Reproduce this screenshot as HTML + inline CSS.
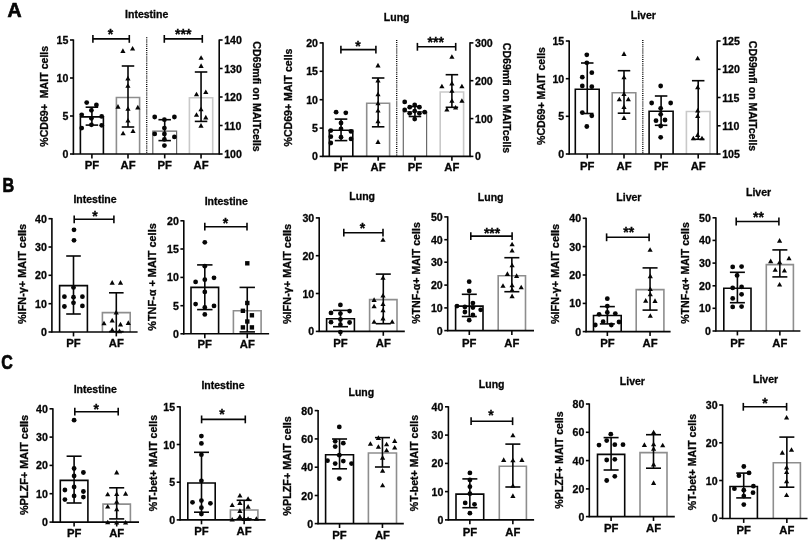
<!DOCTYPE html>
<html><head><meta charset="utf-8"><title>Figure</title>
<style>
html,body{margin:0;padding:0;background:#fff;}
body{width:810px;height:542px;overflow:hidden;}
svg{display:block;filter:blur(0.3px);font-family:"Liberation Sans",sans-serif;fill:#060606;}
text{stroke:#060606;stroke-width:0.3px;}
</style></head><body>
<svg width="810" height="542" viewBox="0 0 810 542">
<rect width="810" height="542" fill="#fff"/>
<text transform="translate(7.4 16.6) scale(1.0 1)" font-size="19.5" font-weight="bold" style="stroke-width:0.7px">A</text>
<text transform="translate(2.6 191.8) scale(0.83 1)" font-size="19.5" font-weight="bold" style="stroke-width:0.7px">B</text>
<text transform="translate(1.2 369.2) scale(0.82 1)" font-size="19.5" font-weight="bold" style="stroke-width:0.7px">C</text>
<path d="M80.40 154.00 L80.40 116.90 L103.40 116.90 L103.40 154.00" fill="#fff" stroke="#060606" stroke-width="1.6"/>
<path d="M116.40 154.00 L116.40 97.50 L139.60 97.50 L139.60 154.00" fill="#fff" stroke="#8e8e8e" stroke-width="1.6"/>
<path d="M152.80 154.00 L152.80 131.10 L176.60 131.10 L176.60 154.00" fill="#fff" stroke="#6a6a6a" stroke-width="1.2"/>
<path d="M189.40 154.00 L189.40 97.80 L212.70 97.80 L212.70 154.00" fill="#fff" stroke="#c9c9c9" stroke-width="1.6"/>
<line x1="73.40" y1="39.40" x2="73.40" y2="154.60" stroke="#060606" stroke-width="1.6"/>
<line x1="72.80" y1="154.00" x2="219.80" y2="154.00" stroke="#060606" stroke-width="1.6"/>
<line x1="70.00" y1="40.00" x2="73.40" y2="40.00" stroke="#060606" stroke-width="1.6"/>
<text xml:space="preserve" x="68.40" y="44.00" font-size="10.6" text-anchor="end" font-weight="bold">15</text>
<line x1="70.00" y1="78.00" x2="73.40" y2="78.00" stroke="#060606" stroke-width="1.6"/>
<text xml:space="preserve" x="68.40" y="82.00" font-size="10.6" text-anchor="end" font-weight="bold">10</text>
<line x1="70.00" y1="116.00" x2="73.40" y2="116.00" stroke="#060606" stroke-width="1.6"/>
<text xml:space="preserve" x="68.40" y="120.00" font-size="10.6" text-anchor="end" font-weight="bold">5</text>
<line x1="70.00" y1="154.00" x2="73.40" y2="154.00" stroke="#060606" stroke-width="1.6"/>
<text xml:space="preserve" x="68.40" y="158.00" font-size="10.6" text-anchor="end" font-weight="bold">0</text>
<line x1="219.20" y1="39.40" x2="219.20" y2="154.60" stroke="#060606" stroke-width="1.6"/>
<line x1="219.20" y1="40.00" x2="222.60" y2="40.00" stroke="#060606" stroke-width="1.6"/>
<text xml:space="preserve" x="224.20" y="44.00" font-size="10.6" text-anchor="start" font-weight="bold">140</text>
<line x1="219.20" y1="68.50" x2="222.60" y2="68.50" stroke="#060606" stroke-width="1.6"/>
<text xml:space="preserve" x="224.20" y="72.50" font-size="10.6" text-anchor="start" font-weight="bold">130</text>
<line x1="219.20" y1="97.00" x2="222.60" y2="97.00" stroke="#060606" stroke-width="1.6"/>
<text xml:space="preserve" x="224.20" y="101.00" font-size="10.6" text-anchor="start" font-weight="bold">120</text>
<line x1="219.20" y1="125.50" x2="222.60" y2="125.50" stroke="#060606" stroke-width="1.6"/>
<text xml:space="preserve" x="224.20" y="129.50" font-size="10.6" text-anchor="start" font-weight="bold">110</text>
<line x1="219.20" y1="154.00" x2="222.60" y2="154.00" stroke="#060606" stroke-width="1.6"/>
<text xml:space="preserve" x="224.20" y="158.00" font-size="10.6" text-anchor="start" font-weight="bold">100</text>
<text xml:space="preserve" x="252.50" y="96.50" font-size="10.6" text-anchor="middle" font-weight="bold" transform="rotate(90 252.50 96.50)">CD69mfi on MAITcells</text>
<line x1="146.70" y1="37.30" x2="146.70" y2="154.00" stroke="#000" stroke-width="1.35" stroke-dasharray="1 1.12"/>
<line x1="91.90" y1="154.00" x2="91.90" y2="158.40" stroke="#060606" stroke-width="1.6"/>
<text xml:space="preserve" x="91.90" y="169.30" font-size="11.3" text-anchor="middle" font-weight="bold">PF</text>
<line x1="128.00" y1="154.00" x2="128.00" y2="158.40" stroke="#060606" stroke-width="1.6"/>
<text xml:space="preserve" x="128.00" y="169.30" font-size="11.3" text-anchor="middle" font-weight="bold">AF</text>
<line x1="164.70" y1="154.00" x2="164.70" y2="158.40" stroke="#060606" stroke-width="1.6"/>
<text xml:space="preserve" x="164.70" y="169.30" font-size="11.3" text-anchor="middle" font-weight="bold">PF</text>
<line x1="201.05" y1="154.00" x2="201.05" y2="158.40" stroke="#060606" stroke-width="1.6"/>
<text xml:space="preserve" x="201.05" y="169.30" font-size="11.3" text-anchor="middle" font-weight="bold">AF</text>
<line x1="91.90" y1="107.20" x2="91.90" y2="125.10" stroke="#060606" stroke-width="1.6"/>
<line x1="85.65" y1="107.20" x2="98.15" y2="107.20" stroke="#060606" stroke-width="1.6"/>
<line x1="85.65" y1="125.10" x2="98.15" y2="125.10" stroke="#060606" stroke-width="1.6"/>
<circle cx="86.70" cy="102.60" r="2.4" fill="#060606"/>
<circle cx="96.40" cy="105.00" r="2.4" fill="#060606"/>
<circle cx="91.40" cy="110.30" r="2.4" fill="#060606"/>
<circle cx="81.70" cy="114.80" r="2.4" fill="#060606"/>
<circle cx="101.70" cy="116.40" r="2.4" fill="#060606"/>
<circle cx="91.40" cy="118.30" r="2.4" fill="#060606"/>
<circle cx="91.40" cy="124.80" r="2.4" fill="#060606"/>
<circle cx="101.70" cy="125.30" r="2.4" fill="#060606"/>
<circle cx="81.70" cy="128.10" r="2.4" fill="#060606"/>
<line x1="128.00" y1="66.00" x2="128.00" y2="127.00" stroke="#060606" stroke-width="1.6"/>
<line x1="121.75" y1="66.00" x2="134.25" y2="66.00" stroke="#060606" stroke-width="1.6"/>
<line x1="121.75" y1="127.00" x2="134.25" y2="127.00" stroke="#060606" stroke-width="1.6"/>
<path d="M122.90 48.33 L125.50 52.93 L120.30 52.93Z" fill="#060606"/>
<path d="M132.60 45.93 L135.20 50.53 L130.00 50.53Z" fill="#060606"/>
<path d="M127.90 75.83 L130.50 80.43 L125.30 80.43Z" fill="#060606"/>
<path d="M127.90 83.23 L130.50 87.83 L125.30 87.83Z" fill="#060606"/>
<path d="M118.00 104.03 L120.60 108.63 L115.40 108.63Z" fill="#060606"/>
<path d="M128.00 106.23 L130.60 110.83 L125.40 110.83Z" fill="#060606"/>
<path d="M137.80 104.83 L140.40 109.43 L135.20 109.43Z" fill="#060606"/>
<path d="M128.00 117.93 L130.60 122.53 L125.40 122.53Z" fill="#060606"/>
<path d="M123.10 130.63 L125.70 135.23 L120.50 135.23Z" fill="#060606"/>
<path d="M133.00 128.43 L135.60 133.03 L130.40 133.03Z" fill="#060606"/>
<line x1="164.70" y1="119.70" x2="164.70" y2="140.60" stroke="#060606" stroke-width="1.6"/>
<line x1="158.45" y1="119.70" x2="170.95" y2="119.70" stroke="#060606" stroke-width="1.6"/>
<line x1="158.45" y1="140.60" x2="170.95" y2="140.60" stroke="#060606" stroke-width="1.6"/>
<circle cx="154.70" cy="117.00" r="2.4" fill="#060606"/>
<circle cx="174.40" cy="117.00" r="2.4" fill="#060606"/>
<circle cx="164.40" cy="119.70" r="2.4" fill="#060606"/>
<circle cx="164.40" cy="128.10" r="2.4" fill="#060606"/>
<circle cx="154.70" cy="133.90" r="2.4" fill="#060606"/>
<circle cx="164.40" cy="133.90" r="2.4" fill="#060606"/>
<circle cx="174.40" cy="136.90" r="2.4" fill="#060606"/>
<circle cx="164.40" cy="139.40" r="2.4" fill="#060606"/>
<circle cx="164.40" cy="145.60" r="2.4" fill="#060606"/>
<line x1="201.05" y1="72.00" x2="201.05" y2="121.40" stroke="#060606" stroke-width="1.6"/>
<line x1="194.80" y1="72.00" x2="207.30" y2="72.00" stroke="#060606" stroke-width="1.6"/>
<line x1="194.80" y1="121.40" x2="207.30" y2="121.40" stroke="#060606" stroke-width="1.6"/>
<path d="M201.10 55.13 L203.70 59.73 L198.50 59.73Z" fill="#060606"/>
<path d="M201.10 63.33 L203.70 67.93 L198.50 67.93Z" fill="#060606"/>
<path d="M196.50 91.73 L199.10 96.33 L193.90 96.33Z" fill="#060606"/>
<path d="M205.80 89.43 L208.40 94.03 L203.20 94.03Z" fill="#060606"/>
<path d="M201.00 106.73 L203.60 111.33 L198.40 111.33Z" fill="#060606"/>
<path d="M196.50 112.23 L199.10 116.83 L193.90 116.83Z" fill="#060606"/>
<path d="M205.80 114.83 L208.40 119.43 L203.20 119.43Z" fill="#060606"/>
<path d="M201.00 123.03 L203.60 127.63 L198.40 127.63Z" fill="#060606"/>
<line x1="92.90" y1="38.90" x2="129.30" y2="38.90" stroke="#060606" stroke-width="1.6"/>
<line x1="92.90" y1="35.00" x2="92.90" y2="42.80" stroke="#060606" stroke-width="1.6"/>
<line x1="129.30" y1="35.00" x2="129.30" y2="42.80" stroke="#060606" stroke-width="1.6"/>
<text xml:space="preserve" x="110.60" y="39.40" font-size="14" text-anchor="middle" font-weight="bold">*</text>
<line x1="164.30" y1="38.90" x2="202.30" y2="38.90" stroke="#060606" stroke-width="1.6"/>
<line x1="164.30" y1="35.00" x2="164.30" y2="42.80" stroke="#060606" stroke-width="1.6"/>
<line x1="202.30" y1="35.00" x2="202.30" y2="42.80" stroke="#060606" stroke-width="1.6"/>
<text xml:space="preserve" x="183.20" y="39.40" font-size="14" text-anchor="middle" font-weight="bold">***</text>
<text xml:space="preserve" x="146.70" y="18.00" font-size="10.5" text-anchor="middle" font-weight="bold">Intestine</text>
<text xml:space="preserve" x="47.70" y="96.30" font-size="10.6" text-anchor="middle" font-weight="bold" transform="rotate(-90 47.70 96.30)">%CD69+  MAIT cells</text>
<path d="M329.30 156.40 L329.30 130.30 L352.80 130.30 L352.80 156.40" fill="#fff" stroke="#060606" stroke-width="1.6"/>
<path d="M366.70 156.40 L366.70 103.30 L389.60 103.30 L389.60 156.40" fill="#fff" stroke="#8e8e8e" stroke-width="1.6"/>
<path d="M403.30 156.40 L403.30 111.70 L426.60 111.70 L426.60 156.40" fill="#fff" stroke="#6a6a6a" stroke-width="1.2"/>
<path d="M440.20 156.40 L440.20 92.00 L463.60 92.00 L463.60 156.40" fill="#fff" stroke="#c9c9c9" stroke-width="1.6"/>
<line x1="323.00" y1="42.30" x2="323.00" y2="157.00" stroke="#060606" stroke-width="1.6"/>
<line x1="322.40" y1="156.40" x2="470.60" y2="156.40" stroke="#060606" stroke-width="1.6"/>
<line x1="319.60" y1="42.90" x2="323.00" y2="42.90" stroke="#060606" stroke-width="1.6"/>
<text xml:space="preserve" x="318.00" y="46.90" font-size="10.6" text-anchor="end" font-weight="bold">20</text>
<line x1="319.60" y1="71.30" x2="323.00" y2="71.30" stroke="#060606" stroke-width="1.6"/>
<text xml:space="preserve" x="318.00" y="75.30" font-size="10.6" text-anchor="end" font-weight="bold">15</text>
<line x1="319.60" y1="99.70" x2="323.00" y2="99.70" stroke="#060606" stroke-width="1.6"/>
<text xml:space="preserve" x="318.00" y="103.70" font-size="10.6" text-anchor="end" font-weight="bold">10</text>
<line x1="319.60" y1="128.10" x2="323.00" y2="128.10" stroke="#060606" stroke-width="1.6"/>
<text xml:space="preserve" x="318.00" y="132.10" font-size="10.6" text-anchor="end" font-weight="bold">5</text>
<line x1="319.60" y1="156.40" x2="323.00" y2="156.40" stroke="#060606" stroke-width="1.6"/>
<text xml:space="preserve" x="318.00" y="160.40" font-size="10.6" text-anchor="end" font-weight="bold">0</text>
<line x1="470.00" y1="42.30" x2="470.00" y2="157.00" stroke="#060606" stroke-width="1.6"/>
<line x1="470.00" y1="42.90" x2="473.40" y2="42.90" stroke="#060606" stroke-width="1.6"/>
<text xml:space="preserve" x="475.00" y="46.90" font-size="10.6" text-anchor="start" font-weight="bold">300</text>
<line x1="470.00" y1="80.70" x2="473.40" y2="80.70" stroke="#060606" stroke-width="1.6"/>
<text xml:space="preserve" x="475.00" y="84.70" font-size="10.6" text-anchor="start" font-weight="bold">200</text>
<line x1="470.00" y1="118.60" x2="473.40" y2="118.60" stroke="#060606" stroke-width="1.6"/>
<text xml:space="preserve" x="475.00" y="122.60" font-size="10.6" text-anchor="start" font-weight="bold">100</text>
<line x1="470.00" y1="156.40" x2="473.40" y2="156.40" stroke="#060606" stroke-width="1.6"/>
<text xml:space="preserve" x="475.00" y="160.40" font-size="10.6" text-anchor="start" font-weight="bold">0</text>
<text xml:space="preserve" x="503.00" y="98.00" font-size="10.6" text-anchor="middle" font-weight="bold" transform="rotate(90 503.00 98.00)">CD69mfi on MAITcells</text>
<line x1="396.70" y1="39.90" x2="396.70" y2="156.40" stroke="#000" stroke-width="1.35" stroke-dasharray="1 1.12"/>
<line x1="341.05" y1="156.40" x2="341.05" y2="160.80" stroke="#060606" stroke-width="1.6"/>
<text xml:space="preserve" x="341.05" y="170.50" font-size="11.3" text-anchor="middle" font-weight="bold">PF</text>
<line x1="378.15" y1="156.40" x2="378.15" y2="160.80" stroke="#060606" stroke-width="1.6"/>
<text xml:space="preserve" x="378.15" y="170.50" font-size="11.3" text-anchor="middle" font-weight="bold">AF</text>
<line x1="414.95" y1="156.40" x2="414.95" y2="160.80" stroke="#060606" stroke-width="1.6"/>
<text xml:space="preserve" x="414.95" y="170.50" font-size="11.3" text-anchor="middle" font-weight="bold">PF</text>
<line x1="451.90" y1="156.40" x2="451.90" y2="160.80" stroke="#060606" stroke-width="1.6"/>
<text xml:space="preserve" x="451.90" y="170.50" font-size="11.3" text-anchor="middle" font-weight="bold">AF</text>
<line x1="341.05" y1="119.10" x2="341.05" y2="140.60" stroke="#060606" stroke-width="1.6"/>
<line x1="334.80" y1="119.10" x2="347.30" y2="119.10" stroke="#060606" stroke-width="1.6"/>
<line x1="334.80" y1="140.60" x2="347.30" y2="140.60" stroke="#060606" stroke-width="1.6"/>
<circle cx="336.10" cy="112.20" r="2.4" fill="#060606"/>
<circle cx="345.80" cy="112.80" r="2.4" fill="#060606"/>
<circle cx="341.00" cy="123.00" r="2.4" fill="#060606"/>
<circle cx="341.00" cy="128.90" r="2.4" fill="#060606"/>
<circle cx="330.80" cy="130.60" r="2.4" fill="#060606"/>
<circle cx="351.00" cy="131.40" r="2.4" fill="#060606"/>
<circle cx="330.80" cy="136.70" r="2.4" fill="#060606"/>
<circle cx="341.00" cy="137.20" r="2.4" fill="#060606"/>
<circle cx="351.00" cy="138.90" r="2.4" fill="#060606"/>
<circle cx="330.80" cy="143.00" r="2.4" fill="#060606"/>
<line x1="378.15" y1="78.00" x2="378.15" y2="126.80" stroke="#060606" stroke-width="1.6"/>
<line x1="371.90" y1="78.00" x2="384.40" y2="78.00" stroke="#060606" stroke-width="1.6"/>
<line x1="371.90" y1="126.80" x2="384.40" y2="126.80" stroke="#060606" stroke-width="1.6"/>
<path d="M378.00 62.83 L380.60 67.43 L375.40 67.43Z" fill="#060606"/>
<path d="M378.00 77.83 L380.60 82.43 L375.40 82.43Z" fill="#060606"/>
<path d="M378.00 91.73 L380.60 96.33 L375.40 96.33Z" fill="#060606"/>
<path d="M378.00 100.63 L380.60 105.23 L375.40 105.23Z" fill="#060606"/>
<path d="M378.00 107.93 L380.60 112.53 L375.40 112.53Z" fill="#060606"/>
<path d="M378.00 118.73 L380.60 123.33 L375.40 123.33Z" fill="#060606"/>
<path d="M378.00 139.33 L380.60 143.93 L375.40 143.93Z" fill="#060606"/>
<line x1="414.95" y1="106.50" x2="414.95" y2="116.50" stroke="#060606" stroke-width="1.6"/>
<line x1="408.70" y1="106.50" x2="421.20" y2="106.50" stroke="#060606" stroke-width="1.6"/>
<line x1="408.70" y1="116.50" x2="421.20" y2="116.50" stroke="#060606" stroke-width="1.6"/>
<circle cx="404.70" cy="101.90" r="2.4" fill="#060606"/>
<circle cx="404.70" cy="110.00" r="2.4" fill="#060606"/>
<circle cx="409.70" cy="107.20" r="2.4" fill="#060606"/>
<circle cx="414.70" cy="105.00" r="2.4" fill="#060606"/>
<circle cx="419.40" cy="107.20" r="2.4" fill="#060606"/>
<circle cx="409.70" cy="113.30" r="2.4" fill="#060606"/>
<circle cx="414.70" cy="111.10" r="2.4" fill="#060606"/>
<circle cx="419.40" cy="113.30" r="2.4" fill="#060606"/>
<circle cx="424.70" cy="112.20" r="2.4" fill="#060606"/>
<circle cx="414.70" cy="119.10" r="2.4" fill="#060606"/>
<line x1="451.90" y1="74.70" x2="451.90" y2="107.30" stroke="#060606" stroke-width="1.6"/>
<line x1="445.65" y1="74.70" x2="458.15" y2="74.70" stroke="#060606" stroke-width="1.6"/>
<line x1="445.65" y1="107.30" x2="458.15" y2="107.30" stroke="#060606" stroke-width="1.6"/>
<path d="M451.90 54.13 L454.50 58.73 L449.30 58.73Z" fill="#060606"/>
<path d="M441.90 83.73 L444.50 88.33 L439.30 88.33Z" fill="#060606"/>
<path d="M451.90 80.83 L454.50 85.43 L449.30 85.43Z" fill="#060606"/>
<path d="M461.90 83.73 L464.50 88.33 L459.30 88.33Z" fill="#060606"/>
<path d="M451.90 88.23 L454.50 92.83 L449.30 92.83Z" fill="#060606"/>
<path d="M461.90 98.23 L464.50 102.83 L459.30 102.83Z" fill="#060606"/>
<path d="M451.90 98.23 L454.50 102.83 L449.30 102.83Z" fill="#060606"/>
<path d="M446.90 106.93 L449.50 111.53 L444.30 111.53Z" fill="#060606"/>
<path d="M455.60 104.93 L458.20 109.53 L453.00 109.53Z" fill="#060606"/>
<line x1="340.90" y1="49.60" x2="375.90" y2="49.60" stroke="#060606" stroke-width="1.6"/>
<line x1="340.90" y1="45.70" x2="340.90" y2="53.50" stroke="#060606" stroke-width="1.6"/>
<line x1="375.90" y1="45.70" x2="375.90" y2="53.50" stroke="#060606" stroke-width="1.6"/>
<text xml:space="preserve" x="357.90" y="50.80" font-size="14" text-anchor="middle" font-weight="bold">*</text>
<line x1="417.40" y1="46.80" x2="455.70" y2="46.80" stroke="#060606" stroke-width="1.6"/>
<line x1="417.40" y1="42.90" x2="417.40" y2="50.70" stroke="#060606" stroke-width="1.6"/>
<line x1="455.70" y1="42.90" x2="455.70" y2="50.70" stroke="#060606" stroke-width="1.6"/>
<text xml:space="preserve" x="435.80" y="47.10" font-size="14" text-anchor="middle" font-weight="bold">***</text>
<text xml:space="preserve" x="396.70" y="20.50" font-size="10.5" text-anchor="middle" font-weight="bold">Lung</text>
<text xml:space="preserve" x="292.00" y="97.50" font-size="10.6" text-anchor="middle" font-weight="bold" transform="rotate(-90 292.00 97.50)">%CD69+ MAIT cells</text>
<path d="M575.30 154.00 L575.30 89.20 L599.20 89.20 L599.20 154.00" fill="#fff" stroke="#060606" stroke-width="1.6"/>
<path d="M612.20 154.00 L612.20 92.80 L635.80 92.80 L635.80 154.00" fill="#fff" stroke="#8e8e8e" stroke-width="1.6"/>
<path d="M649.10 154.00 L649.10 111.20 L673.10 111.20 L673.10 154.00" fill="#fff" stroke="#060606" stroke-width="1.6"/>
<path d="M686.40 154.00 L686.40 111.50 L710.00 111.50 L710.00 154.00" fill="#fff" stroke="#c9c9c9" stroke-width="1.6"/>
<line x1="569.20" y1="40.40" x2="569.20" y2="154.60" stroke="#060606" stroke-width="1.6"/>
<line x1="568.60" y1="154.00" x2="717.80" y2="154.00" stroke="#060606" stroke-width="1.6"/>
<line x1="565.80" y1="41.00" x2="569.20" y2="41.00" stroke="#060606" stroke-width="1.6"/>
<text xml:space="preserve" x="564.20" y="45.00" font-size="10.6" text-anchor="end" font-weight="bold">15</text>
<line x1="565.80" y1="78.70" x2="569.20" y2="78.70" stroke="#060606" stroke-width="1.6"/>
<text xml:space="preserve" x="564.20" y="82.70" font-size="10.6" text-anchor="end" font-weight="bold">10</text>
<line x1="565.80" y1="116.30" x2="569.20" y2="116.30" stroke="#060606" stroke-width="1.6"/>
<text xml:space="preserve" x="564.20" y="120.30" font-size="10.6" text-anchor="end" font-weight="bold">5</text>
<line x1="565.80" y1="154.00" x2="569.20" y2="154.00" stroke="#060606" stroke-width="1.6"/>
<text xml:space="preserve" x="564.20" y="158.00" font-size="10.6" text-anchor="end" font-weight="bold">0</text>
<line x1="717.20" y1="40.40" x2="717.20" y2="154.60" stroke="#060606" stroke-width="1.6"/>
<line x1="717.20" y1="41.00" x2="720.60" y2="41.00" stroke="#060606" stroke-width="1.6"/>
<text xml:space="preserve" x="722.20" y="45.00" font-size="10.6" text-anchor="start" font-weight="bold">125</text>
<line x1="717.20" y1="69.30" x2="720.60" y2="69.30" stroke="#060606" stroke-width="1.6"/>
<text xml:space="preserve" x="722.20" y="73.30" font-size="10.6" text-anchor="start" font-weight="bold">120</text>
<line x1="717.20" y1="97.50" x2="720.60" y2="97.50" stroke="#060606" stroke-width="1.6"/>
<text xml:space="preserve" x="722.20" y="101.50" font-size="10.6" text-anchor="start" font-weight="bold">115</text>
<line x1="717.20" y1="125.80" x2="720.60" y2="125.80" stroke="#060606" stroke-width="1.6"/>
<text xml:space="preserve" x="722.20" y="129.80" font-size="10.6" text-anchor="start" font-weight="bold">110</text>
<line x1="717.20" y1="154.00" x2="720.60" y2="154.00" stroke="#060606" stroke-width="1.6"/>
<text xml:space="preserve" x="722.20" y="158.00" font-size="10.6" text-anchor="start" font-weight="bold">105</text>
<text xml:space="preserve" x="748.70" y="96.00" font-size="10.6" text-anchor="middle" font-weight="bold" transform="rotate(90 748.70 96.00)">CD69mfi on MAITcells</text>
<line x1="642.80" y1="39.90" x2="642.80" y2="154.00" stroke="#000" stroke-width="1.35" stroke-dasharray="1 1.12"/>
<line x1="587.25" y1="154.00" x2="587.25" y2="158.40" stroke="#060606" stroke-width="1.6"/>
<text xml:space="preserve" x="587.25" y="170.00" font-size="11.3" text-anchor="middle" font-weight="bold">PF</text>
<line x1="624.00" y1="154.00" x2="624.00" y2="158.40" stroke="#060606" stroke-width="1.6"/>
<text xml:space="preserve" x="624.00" y="170.00" font-size="11.3" text-anchor="middle" font-weight="bold">AF</text>
<line x1="661.10" y1="154.00" x2="661.10" y2="158.40" stroke="#060606" stroke-width="1.6"/>
<text xml:space="preserve" x="661.10" y="170.00" font-size="11.3" text-anchor="middle" font-weight="bold">PF</text>
<line x1="698.20" y1="154.00" x2="698.20" y2="158.40" stroke="#060606" stroke-width="1.6"/>
<text xml:space="preserve" x="698.20" y="170.00" font-size="11.3" text-anchor="middle" font-weight="bold">AF</text>
<line x1="587.25" y1="63.00" x2="587.25" y2="113.50" stroke="#060606" stroke-width="1.6"/>
<line x1="581.00" y1="63.00" x2="593.50" y2="63.00" stroke="#060606" stroke-width="1.6"/>
<line x1="581.00" y1="113.50" x2="593.50" y2="113.50" stroke="#060606" stroke-width="1.6"/>
<circle cx="586.80" cy="54.80" r="2.4" fill="#060606"/>
<circle cx="586.80" cy="62.80" r="2.4" fill="#060606"/>
<circle cx="591.80" cy="72.70" r="2.4" fill="#060606"/>
<circle cx="582.30" cy="77.20" r="2.4" fill="#060606"/>
<circle cx="582.30" cy="85.90" r="2.4" fill="#060606"/>
<circle cx="591.80" cy="86.70" r="2.4" fill="#060606"/>
<circle cx="582.30" cy="112.60" r="2.4" fill="#060606"/>
<circle cx="591.80" cy="115.80" r="2.4" fill="#060606"/>
<circle cx="586.80" cy="126.50" r="2.4" fill="#060606"/>
<line x1="624.00" y1="70.70" x2="624.00" y2="113.20" stroke="#060606" stroke-width="1.6"/>
<line x1="617.75" y1="70.70" x2="630.25" y2="70.70" stroke="#060606" stroke-width="1.6"/>
<line x1="617.75" y1="113.20" x2="630.25" y2="113.20" stroke="#060606" stroke-width="1.6"/>
<path d="M624.00 51.33 L626.60 55.93 L621.40 55.93Z" fill="#060606"/>
<path d="M624.00 74.67 L626.60 79.27 L621.40 79.27Z" fill="#060606"/>
<path d="M624.00 91.33 L626.60 95.93 L621.40 95.93Z" fill="#060606"/>
<path d="M619.33 96.67 L621.93 101.27 L616.73 101.27Z" fill="#060606"/>
<path d="M628.33 96.67 L630.93 101.27 L625.73 101.27Z" fill="#060606"/>
<path d="M624.00 104.33 L626.60 108.93 L621.40 108.93Z" fill="#060606"/>
<path d="M624.00 115.33 L626.60 119.93 L621.40 119.93Z" fill="#060606"/>
<line x1="661.10" y1="96.00" x2="661.10" y2="125.30" stroke="#060606" stroke-width="1.6"/>
<line x1="654.85" y1="96.00" x2="667.35" y2="96.00" stroke="#060606" stroke-width="1.6"/>
<line x1="654.85" y1="125.30" x2="667.35" y2="125.30" stroke="#060606" stroke-width="1.6"/>
<circle cx="660.67" cy="86.00" r="2.4" fill="#060606"/>
<circle cx="651.67" cy="103.00" r="2.4" fill="#060606"/>
<circle cx="670.67" cy="103.00" r="2.4" fill="#060606"/>
<circle cx="660.67" cy="108.33" r="2.4" fill="#060606"/>
<circle cx="660.67" cy="114.33" r="2.4" fill="#060606"/>
<circle cx="656.00" cy="120.67" r="2.4" fill="#060606"/>
<circle cx="665.00" cy="120.00" r="2.4" fill="#060606"/>
<circle cx="660.67" cy="126.00" r="2.4" fill="#060606"/>
<circle cx="660.67" cy="137.33" r="2.4" fill="#060606"/>
<line x1="698.20" y1="80.70" x2="698.20" y2="139.30" stroke="#060606" stroke-width="1.6"/>
<line x1="691.95" y1="80.70" x2="704.45" y2="80.70" stroke="#060606" stroke-width="1.6"/>
<line x1="691.95" y1="139.30" x2="704.45" y2="139.30" stroke="#060606" stroke-width="1.6"/>
<path d="M697.67 55.67 L700.27 60.27 L695.07 60.27Z" fill="#060606"/>
<path d="M697.67 84.67 L700.27 89.27 L695.07 89.27Z" fill="#060606"/>
<path d="M697.67 108.00 L700.27 112.60 L695.07 112.60Z" fill="#060606"/>
<path d="M697.67 113.33 L700.27 117.93 L695.07 117.93Z" fill="#060606"/>
<path d="M693.33 135.67 L695.93 140.27 L690.73 140.27Z" fill="#060606"/>
<path d="M697.67 132.33 L700.27 136.93 L695.07 136.93Z" fill="#060606"/>
<path d="M702.00 135.67 L704.60 140.27 L699.40 140.27Z" fill="#060606"/>
<text xml:space="preserve" x="643.30" y="19.00" font-size="10.5" text-anchor="middle" font-weight="bold">Liver</text>
<text xml:space="preserve" x="545.00" y="96.00" font-size="10.6" text-anchor="middle" font-weight="bold" transform="rotate(-90 545.00 96.00)">%CD69+ MAIT cells</text>
<path d="M59.60 332.00 L59.60 285.60 L87.40 285.60 L87.40 332.00" fill="#fff" stroke="#060606" stroke-width="1.6"/>
<path d="M102.40 332.00 L102.40 312.60 L130.20 312.60 L130.20 332.00" fill="#fff" stroke="#8e8e8e" stroke-width="1.6"/>
<line x1="51.90" y1="218.10" x2="51.90" y2="332.60" stroke="#060606" stroke-width="1.6"/>
<line x1="51.30" y1="332.00" x2="137.60" y2="332.00" stroke="#060606" stroke-width="1.6"/>
<line x1="48.50" y1="218.70" x2="51.90" y2="218.70" stroke="#060606" stroke-width="1.6"/>
<text xml:space="preserve" x="46.90" y="222.70" font-size="10.6" text-anchor="end" font-weight="bold">40</text>
<line x1="48.50" y1="247.00" x2="51.90" y2="247.00" stroke="#060606" stroke-width="1.6"/>
<text xml:space="preserve" x="46.90" y="251.00" font-size="10.6" text-anchor="end" font-weight="bold">30</text>
<line x1="48.50" y1="275.30" x2="51.90" y2="275.30" stroke="#060606" stroke-width="1.6"/>
<text xml:space="preserve" x="46.90" y="279.30" font-size="10.6" text-anchor="end" font-weight="bold">20</text>
<line x1="48.50" y1="303.70" x2="51.90" y2="303.70" stroke="#060606" stroke-width="1.6"/>
<text xml:space="preserve" x="46.90" y="307.70" font-size="10.6" text-anchor="end" font-weight="bold">10</text>
<line x1="48.50" y1="332.00" x2="51.90" y2="332.00" stroke="#060606" stroke-width="1.6"/>
<text xml:space="preserve" x="46.90" y="336.00" font-size="10.6" text-anchor="end" font-weight="bold">0</text>
<line x1="73.50" y1="332.00" x2="73.50" y2="336.40" stroke="#060606" stroke-width="1.6"/>
<text xml:space="preserve" x="73.50" y="347.00" font-size="11.3" text-anchor="middle" font-weight="bold">PF</text>
<line x1="116.30" y1="332.00" x2="116.30" y2="336.40" stroke="#060606" stroke-width="1.6"/>
<text xml:space="preserve" x="116.30" y="347.00" font-size="11.3" text-anchor="middle" font-weight="bold">AF</text>
<line x1="73.50" y1="256.00" x2="73.50" y2="314.00" stroke="#060606" stroke-width="1.6"/>
<line x1="66.20" y1="256.00" x2="80.80" y2="256.00" stroke="#060606" stroke-width="1.6"/>
<line x1="66.20" y1="314.00" x2="80.80" y2="314.00" stroke="#060606" stroke-width="1.6"/>
<circle cx="74.00" cy="229.80" r="2.4" fill="#060606"/>
<circle cx="74.00" cy="240.30" r="2.4" fill="#060606"/>
<circle cx="73.50" cy="287.40" r="2.4" fill="#060606"/>
<circle cx="64.40" cy="296.70" r="2.4" fill="#060606"/>
<circle cx="73.50" cy="297.20" r="2.4" fill="#060606"/>
<circle cx="82.40" cy="296.70" r="2.4" fill="#060606"/>
<circle cx="73.50" cy="302.80" r="2.4" fill="#060606"/>
<circle cx="64.40" cy="306.50" r="2.4" fill="#060606"/>
<circle cx="82.40" cy="305.90" r="2.4" fill="#060606"/>
<line x1="116.30" y1="292.80" x2="116.30" y2="331.60" stroke="#060606" stroke-width="1.6"/>
<line x1="109.00" y1="292.80" x2="123.60" y2="292.80" stroke="#060606" stroke-width="1.6"/>
<line x1="109.00" y1="331.60" x2="123.60" y2="331.60" stroke="#060606" stroke-width="1.6"/>
<path d="M112.20 280.03 L114.80 284.63 L109.60 284.63Z" fill="#060606"/>
<path d="M120.50 280.03 L123.10 284.63 L117.90 284.63Z" fill="#060606"/>
<path d="M116.20 309.83 L118.80 314.43 L113.60 314.43Z" fill="#060606"/>
<path d="M104.00 320.73 L106.60 325.33 L101.40 325.33Z" fill="#060606"/>
<path d="M112.20 317.83 L114.80 322.43 L109.60 322.43Z" fill="#060606"/>
<path d="M120.50 321.83 L123.10 326.43 L117.90 326.43Z" fill="#060606"/>
<path d="M128.30 320.33 L130.90 324.93 L125.70 324.93Z" fill="#060606"/>
<path d="M112.20 327.33 L114.80 331.93 L109.60 331.93Z" fill="#060606"/>
<path d="M119.50 328.53 L122.10 333.13 L116.90 333.13Z" fill="#060606"/>
<line x1="74.20" y1="219.30" x2="113.90" y2="219.30" stroke="#060606" stroke-width="1.6"/>
<line x1="74.20" y1="215.40" x2="74.20" y2="223.20" stroke="#060606" stroke-width="1.6"/>
<line x1="113.90" y1="215.40" x2="113.90" y2="223.20" stroke="#060606" stroke-width="1.6"/>
<text xml:space="preserve" x="95.00" y="220.60" font-size="14" text-anchor="middle" font-weight="bold">*</text>
<text xml:space="preserve" x="95.00" y="203.00" font-size="10.5" text-anchor="middle" font-weight="bold">Intestine</text>
<text xml:space="preserve" x="26.00" y="274.00" font-size="10.9" text-anchor="middle" font-weight="bold" transform="rotate(-90 26.00 274.00)">%IFN-&#947;+ MAIT cells</text>
<path d="M191.00 333.80 L191.00 287.40 L218.60 287.40 L218.60 333.80" fill="#fff" stroke="#060606" stroke-width="1.6"/>
<path d="M233.40 333.80 L233.40 310.70 L261.10 310.70 L261.10 333.80" fill="#fff" stroke="#8e8e8e" stroke-width="1.6"/>
<line x1="183.80" y1="220.20" x2="183.80" y2="334.40" stroke="#060606" stroke-width="1.6"/>
<line x1="183.20" y1="333.80" x2="269.10" y2="333.80" stroke="#060606" stroke-width="1.6"/>
<line x1="180.40" y1="220.80" x2="183.80" y2="220.80" stroke="#060606" stroke-width="1.6"/>
<text xml:space="preserve" x="178.80" y="224.80" font-size="10.6" text-anchor="end" font-weight="bold">20</text>
<line x1="180.40" y1="249.00" x2="183.80" y2="249.00" stroke="#060606" stroke-width="1.6"/>
<text xml:space="preserve" x="178.80" y="253.00" font-size="10.6" text-anchor="end" font-weight="bold">15</text>
<line x1="180.40" y1="277.40" x2="183.80" y2="277.40" stroke="#060606" stroke-width="1.6"/>
<text xml:space="preserve" x="178.80" y="281.40" font-size="10.6" text-anchor="end" font-weight="bold">10</text>
<line x1="180.40" y1="305.70" x2="183.80" y2="305.70" stroke="#060606" stroke-width="1.6"/>
<text xml:space="preserve" x="178.80" y="309.70" font-size="10.6" text-anchor="end" font-weight="bold">5</text>
<line x1="180.40" y1="333.80" x2="183.80" y2="333.80" stroke="#060606" stroke-width="1.6"/>
<text xml:space="preserve" x="178.80" y="337.80" font-size="10.6" text-anchor="end" font-weight="bold">0</text>
<line x1="204.80" y1="333.80" x2="204.80" y2="338.20" stroke="#060606" stroke-width="1.6"/>
<text xml:space="preserve" x="204.80" y="348.00" font-size="11.3" text-anchor="middle" font-weight="bold">PF</text>
<line x1="247.25" y1="333.80" x2="247.25" y2="338.20" stroke="#060606" stroke-width="1.6"/>
<text xml:space="preserve" x="247.25" y="348.00" font-size="11.3" text-anchor="middle" font-weight="bold">AF</text>
<line x1="204.80" y1="264.90" x2="204.80" y2="309.60" stroke="#060606" stroke-width="1.6"/>
<line x1="197.10" y1="264.90" x2="212.50" y2="264.90" stroke="#060606" stroke-width="1.6"/>
<line x1="197.10" y1="309.60" x2="212.50" y2="309.60" stroke="#060606" stroke-width="1.6"/>
<circle cx="204.80" cy="242.30" r="2.4" fill="#060606"/>
<circle cx="204.80" cy="266.20" r="2.4" fill="#060606"/>
<circle cx="214.00" cy="277.80" r="2.4" fill="#060606"/>
<circle cx="204.80" cy="279.70" r="2.4" fill="#060606"/>
<circle cx="195.60" cy="281.90" r="2.4" fill="#060606"/>
<circle cx="204.80" cy="291.90" r="2.4" fill="#060606"/>
<circle cx="195.60" cy="304.10" r="2.4" fill="#060606"/>
<circle cx="214.00" cy="305.90" r="2.4" fill="#060606"/>
<circle cx="204.80" cy="307.40" r="2.4" fill="#060606"/>
<circle cx="204.80" cy="314.40" r="2.4" fill="#060606"/>
<line x1="247.25" y1="287.40" x2="247.25" y2="331.90" stroke="#060606" stroke-width="1.6"/>
<line x1="239.55" y1="287.40" x2="254.95" y2="287.40" stroke="#060606" stroke-width="1.6"/>
<line x1="239.55" y1="331.90" x2="254.95" y2="331.90" stroke="#060606" stroke-width="1.6"/>
<rect x="245.10" y="261.10" width="4.4" height="4.4" fill="#060606"/>
<rect x="245.10" y="300.80" width="4.4" height="4.4" fill="#060606"/>
<rect x="240.70" y="308.60" width="4.4" height="4.4" fill="#060606"/>
<rect x="249.70" y="313.10" width="4.4" height="4.4" fill="#060606"/>
<rect x="245.10" y="319.30" width="4.4" height="4.4" fill="#060606"/>
<rect x="240.70" y="325.20" width="4.4" height="4.4" fill="#060606"/>
<rect x="249.70" y="325.20" width="4.4" height="4.4" fill="#060606"/>
<line x1="204.80" y1="226.70" x2="247.00" y2="226.70" stroke="#060606" stroke-width="1.6"/>
<line x1="204.80" y1="222.80" x2="204.80" y2="230.60" stroke="#060606" stroke-width="1.6"/>
<line x1="247.00" y1="222.80" x2="247.00" y2="230.60" stroke="#060606" stroke-width="1.6"/>
<text xml:space="preserve" x="225.60" y="227.60" font-size="14" text-anchor="middle" font-weight="bold">*</text>
<text xml:space="preserve" x="226.30" y="205.30" font-size="10.5" text-anchor="middle" font-weight="bold">Intestine</text>
<text xml:space="preserve" x="156.00" y="277.00" font-size="10.9" text-anchor="middle" font-weight="bold" transform="rotate(-90 156.00 277.00)">%TNF-&#945; + MAIT cells</text>
<path d="M326.60 331.40 L326.60 318.80 L354.40 318.80 L354.40 331.40" fill="#fff" stroke="#060606" stroke-width="1.6"/>
<path d="M369.60 331.40 L369.60 299.60 L397.00 299.60 L397.00 331.40" fill="#fff" stroke="#8e8e8e" stroke-width="1.6"/>
<line x1="319.20" y1="217.30" x2="319.20" y2="332.00" stroke="#060606" stroke-width="1.6"/>
<line x1="318.60" y1="331.40" x2="404.80" y2="331.40" stroke="#060606" stroke-width="1.6"/>
<line x1="315.80" y1="217.90" x2="319.20" y2="217.90" stroke="#060606" stroke-width="1.6"/>
<text xml:space="preserve" x="314.20" y="221.90" font-size="10.6" text-anchor="end" font-weight="bold">30</text>
<line x1="315.80" y1="255.70" x2="319.20" y2="255.70" stroke="#060606" stroke-width="1.6"/>
<text xml:space="preserve" x="314.20" y="259.70" font-size="10.6" text-anchor="end" font-weight="bold">20</text>
<line x1="315.80" y1="293.50" x2="319.20" y2="293.50" stroke="#060606" stroke-width="1.6"/>
<text xml:space="preserve" x="314.20" y="297.50" font-size="10.6" text-anchor="end" font-weight="bold">10</text>
<line x1="315.80" y1="331.40" x2="319.20" y2="331.40" stroke="#060606" stroke-width="1.6"/>
<text xml:space="preserve" x="314.20" y="335.40" font-size="10.6" text-anchor="end" font-weight="bold">0</text>
<line x1="340.50" y1="331.40" x2="340.50" y2="335.80" stroke="#060606" stroke-width="1.6"/>
<text xml:space="preserve" x="340.50" y="347.00" font-size="11.3" text-anchor="middle" font-weight="bold">PF</text>
<line x1="383.30" y1="331.40" x2="383.30" y2="335.80" stroke="#060606" stroke-width="1.6"/>
<text xml:space="preserve" x="383.30" y="347.00" font-size="11.3" text-anchor="middle" font-weight="bold">AF</text>
<line x1="340.50" y1="310.40" x2="340.50" y2="326.70" stroke="#060606" stroke-width="1.6"/>
<line x1="333.00" y1="310.40" x2="348.00" y2="310.40" stroke="#060606" stroke-width="1.6"/>
<line x1="333.00" y1="326.70" x2="348.00" y2="326.70" stroke="#060606" stroke-width="1.6"/>
<circle cx="340.40" cy="304.90" r="2.4" fill="#060606"/>
<circle cx="349.60" cy="311.10" r="2.4" fill="#060606"/>
<circle cx="331.00" cy="312.90" r="2.4" fill="#060606"/>
<circle cx="340.40" cy="313.60" r="2.4" fill="#060606"/>
<circle cx="331.00" cy="322.20" r="2.4" fill="#060606"/>
<circle cx="349.60" cy="322.50" r="2.4" fill="#060606"/>
<circle cx="340.40" cy="324.70" r="2.4" fill="#060606"/>
<circle cx="340.40" cy="332.10" r="2.4" fill="#060606"/>
<circle cx="340.40" cy="319.50" r="2.4" fill="#060606"/>
<line x1="383.30" y1="274.10" x2="383.30" y2="323.70" stroke="#060606" stroke-width="1.6"/>
<line x1="375.80" y1="274.10" x2="390.80" y2="274.10" stroke="#060606" stroke-width="1.6"/>
<line x1="375.80" y1="323.70" x2="390.80" y2="323.70" stroke="#060606" stroke-width="1.6"/>
<path d="M383.00 237.13 L385.60 241.73 L380.40 241.73Z" fill="#060606"/>
<path d="M383.00 275.13 L385.60 279.73 L380.40 279.73Z" fill="#060606"/>
<path d="M383.00 292.93 L385.60 297.53 L380.40 297.53Z" fill="#060606"/>
<path d="M374.10 297.33 L376.70 301.93 L371.50 301.93Z" fill="#060606"/>
<path d="M383.00 301.43 L385.60 306.03 L380.40 306.03Z" fill="#060606"/>
<path d="M374.10 303.73 L376.70 308.33 L371.50 308.33Z" fill="#060606"/>
<path d="M383.00 307.73 L385.60 312.33 L380.40 312.33Z" fill="#060606"/>
<path d="M383.00 315.83 L385.60 320.43 L380.40 320.43Z" fill="#060606"/>
<path d="M374.10 319.23 L376.70 323.83 L371.50 323.83Z" fill="#060606"/>
<path d="M392.20 319.23 L394.80 323.83 L389.60 323.83Z" fill="#060606"/>
<line x1="343.80" y1="232.70" x2="383.00" y2="232.70" stroke="#060606" stroke-width="1.6"/>
<line x1="343.80" y1="228.80" x2="343.80" y2="236.60" stroke="#060606" stroke-width="1.6"/>
<line x1="383.00" y1="228.80" x2="383.00" y2="236.60" stroke="#060606" stroke-width="1.6"/>
<text xml:space="preserve" x="362.60" y="233.20" font-size="14" text-anchor="middle" font-weight="bold">*</text>
<text xml:space="preserve" x="362.20" y="200.30" font-size="10.5" text-anchor="middle" font-weight="bold">Lung</text>
<text xml:space="preserve" x="290.50" y="274.00" font-size="10.9" text-anchor="middle" font-weight="bold" transform="rotate(-90 290.50 274.00)">%IFN-&#947;+ MAIT cells</text>
<path d="M455.60 330.60 L455.60 306.10 L483.00 306.10 L483.00 330.60" fill="#fff" stroke="#060606" stroke-width="1.6"/>
<path d="M498.20 330.60 L498.20 275.70 L525.50 275.70 L525.50 330.60" fill="#fff" stroke="#8e8e8e" stroke-width="1.6"/>
<line x1="447.70" y1="216.30" x2="447.70" y2="331.20" stroke="#060606" stroke-width="1.6"/>
<line x1="447.10" y1="330.60" x2="534.00" y2="330.60" stroke="#060606" stroke-width="1.6"/>
<line x1="444.30" y1="216.90" x2="447.70" y2="216.90" stroke="#060606" stroke-width="1.6"/>
<text xml:space="preserve" x="442.70" y="220.90" font-size="10.6" text-anchor="end" font-weight="bold">50</text>
<line x1="444.30" y1="239.70" x2="447.70" y2="239.70" stroke="#060606" stroke-width="1.6"/>
<text xml:space="preserve" x="442.70" y="243.70" font-size="10.6" text-anchor="end" font-weight="bold">40</text>
<line x1="444.30" y1="262.20" x2="447.70" y2="262.20" stroke="#060606" stroke-width="1.6"/>
<text xml:space="preserve" x="442.70" y="266.20" font-size="10.6" text-anchor="end" font-weight="bold">30</text>
<line x1="444.30" y1="285.10" x2="447.70" y2="285.10" stroke="#060606" stroke-width="1.6"/>
<text xml:space="preserve" x="442.70" y="289.10" font-size="10.6" text-anchor="end" font-weight="bold">20</text>
<line x1="444.30" y1="307.90" x2="447.70" y2="307.90" stroke="#060606" stroke-width="1.6"/>
<text xml:space="preserve" x="442.70" y="311.90" font-size="10.6" text-anchor="end" font-weight="bold">10</text>
<line x1="444.30" y1="330.60" x2="447.70" y2="330.60" stroke="#060606" stroke-width="1.6"/>
<text xml:space="preserve" x="442.70" y="334.60" font-size="10.6" text-anchor="end" font-weight="bold">0</text>
<line x1="469.30" y1="330.60" x2="469.30" y2="335.00" stroke="#060606" stroke-width="1.6"/>
<text xml:space="preserve" x="469.30" y="347.00" font-size="11.3" text-anchor="middle" font-weight="bold">PF</text>
<line x1="511.85" y1="330.60" x2="511.85" y2="335.00" stroke="#060606" stroke-width="1.6"/>
<text xml:space="preserve" x="511.85" y="347.00" font-size="11.3" text-anchor="middle" font-weight="bold">AF</text>
<line x1="469.30" y1="294.30" x2="469.30" y2="316.50" stroke="#060606" stroke-width="1.6"/>
<line x1="461.80" y1="294.30" x2="476.80" y2="294.30" stroke="#060606" stroke-width="1.6"/>
<line x1="461.80" y1="316.50" x2="476.80" y2="316.50" stroke="#060606" stroke-width="1.6"/>
<circle cx="469.20" cy="281.70" r="2.4" fill="#060606"/>
<circle cx="469.20" cy="291.00" r="2.4" fill="#060606"/>
<circle cx="472.90" cy="303.10" r="2.4" fill="#060606"/>
<circle cx="457.00" cy="306.10" r="2.4" fill="#060606"/>
<circle cx="464.90" cy="306.90" r="2.4" fill="#060606"/>
<circle cx="472.90" cy="307.60" r="2.4" fill="#060606"/>
<circle cx="480.70" cy="309.80" r="2.4" fill="#060606"/>
<circle cx="464.90" cy="312.00" r="2.4" fill="#060606"/>
<circle cx="472.90" cy="315.00" r="2.4" fill="#060606"/>
<circle cx="469.20" cy="320.20" r="2.4" fill="#060606"/>
<line x1="511.85" y1="257.70" x2="511.85" y2="291.70" stroke="#060606" stroke-width="1.6"/>
<line x1="504.35" y1="257.70" x2="519.35" y2="257.70" stroke="#060606" stroke-width="1.6"/>
<line x1="504.35" y1="291.70" x2="519.35" y2="291.70" stroke="#060606" stroke-width="1.6"/>
<path d="M512.10 241.63 L514.70 246.23 L509.50 246.23Z" fill="#060606"/>
<path d="M512.10 247.93 L514.70 252.53 L509.50 252.53Z" fill="#060606"/>
<path d="M512.10 262.73 L514.70 267.33 L509.50 267.33Z" fill="#060606"/>
<path d="M507.40 271.33 L510.00 275.93 L504.80 275.93Z" fill="#060606"/>
<path d="M516.60 273.33 L519.20 277.93 L514.00 277.93Z" fill="#060606"/>
<path d="M503.00 283.13 L505.60 287.73 L500.40 287.73Z" fill="#060606"/>
<path d="M512.10 282.73 L514.70 287.33 L509.50 287.33Z" fill="#060606"/>
<path d="M521.20 284.63 L523.80 289.23 L518.60 289.23Z" fill="#060606"/>
<path d="M512.10 287.13 L514.70 291.73 L509.50 291.73Z" fill="#060606"/>
<path d="M512.10 293.53 L514.70 298.13 L509.50 298.13Z" fill="#060606"/>
<line x1="470.80" y1="236.10" x2="512.10" y2="236.10" stroke="#060606" stroke-width="1.6"/>
<line x1="470.80" y1="232.20" x2="470.80" y2="240.00" stroke="#060606" stroke-width="1.6"/>
<line x1="512.10" y1="232.20" x2="512.10" y2="240.00" stroke="#060606" stroke-width="1.6"/>
<text xml:space="preserve" x="492.10" y="237.80" font-size="14" text-anchor="middle" font-weight="bold">***</text>
<text xml:space="preserve" x="490.70" y="201.00" font-size="10.5" text-anchor="middle" font-weight="bold">Lung</text>
<text xml:space="preserve" x="420.00" y="273.00" font-size="10.6" text-anchor="middle" font-weight="bold" transform="rotate(-90 420.00 273.00)">%TNF-&#945;+ MAIT cells</text>
<path d="M593.50 331.60 L593.50 315.50 L621.20 315.50 L621.20 331.60" fill="#fff" stroke="#060606" stroke-width="1.6"/>
<path d="M636.20 331.60 L636.20 289.60 L663.90 289.60 L663.90 331.60" fill="#fff" stroke="#8e8e8e" stroke-width="1.6"/>
<line x1="586.10" y1="217.70" x2="586.10" y2="332.20" stroke="#060606" stroke-width="1.6"/>
<line x1="585.50" y1="331.60" x2="670.60" y2="331.60" stroke="#060606" stroke-width="1.6"/>
<line x1="582.70" y1="218.30" x2="586.10" y2="218.30" stroke="#060606" stroke-width="1.6"/>
<text xml:space="preserve" x="581.10" y="222.30" font-size="10.6" text-anchor="end" font-weight="bold">40</text>
<line x1="582.70" y1="246.60" x2="586.10" y2="246.60" stroke="#060606" stroke-width="1.6"/>
<text xml:space="preserve" x="581.10" y="250.60" font-size="10.6" text-anchor="end" font-weight="bold">30</text>
<line x1="582.70" y1="275.00" x2="586.10" y2="275.00" stroke="#060606" stroke-width="1.6"/>
<text xml:space="preserve" x="581.10" y="279.00" font-size="10.6" text-anchor="end" font-weight="bold">20</text>
<line x1="582.70" y1="303.40" x2="586.10" y2="303.40" stroke="#060606" stroke-width="1.6"/>
<text xml:space="preserve" x="581.10" y="307.40" font-size="10.6" text-anchor="end" font-weight="bold">10</text>
<line x1="582.70" y1="331.60" x2="586.10" y2="331.60" stroke="#060606" stroke-width="1.6"/>
<text xml:space="preserve" x="581.10" y="335.60" font-size="10.6" text-anchor="end" font-weight="bold">0</text>
<line x1="607.35" y1="331.60" x2="607.35" y2="336.00" stroke="#060606" stroke-width="1.6"/>
<text xml:space="preserve" x="607.35" y="347.30" font-size="11.3" text-anchor="middle" font-weight="bold">PF</text>
<line x1="650.05" y1="331.60" x2="650.05" y2="336.00" stroke="#060606" stroke-width="1.6"/>
<text xml:space="preserve" x="650.05" y="347.30" font-size="11.3" text-anchor="middle" font-weight="bold">AF</text>
<line x1="607.35" y1="306.60" x2="607.35" y2="323.90" stroke="#060606" stroke-width="1.6"/>
<line x1="599.85" y1="306.60" x2="614.85" y2="306.60" stroke="#060606" stroke-width="1.6"/>
<line x1="599.85" y1="323.90" x2="614.85" y2="323.90" stroke="#060606" stroke-width="1.6"/>
<circle cx="607.30" cy="298.70" r="2.4" fill="#060606"/>
<circle cx="607.30" cy="306.10" r="2.4" fill="#060606"/>
<circle cx="607.30" cy="312.40" r="2.4" fill="#060606"/>
<circle cx="599.10" cy="314.30" r="2.4" fill="#060606"/>
<circle cx="615.30" cy="313.60" r="2.4" fill="#060606"/>
<circle cx="603.10" cy="321.70" r="2.4" fill="#060606"/>
<circle cx="619.00" cy="322.00" r="2.4" fill="#060606"/>
<circle cx="595.30" cy="325.00" r="2.4" fill="#060606"/>
<circle cx="611.30" cy="325.00" r="2.4" fill="#060606"/>
<line x1="650.05" y1="267.90" x2="650.05" y2="310.10" stroke="#060606" stroke-width="1.6"/>
<line x1="642.55" y1="267.90" x2="657.55" y2="267.90" stroke="#060606" stroke-width="1.6"/>
<line x1="642.55" y1="310.10" x2="657.55" y2="310.10" stroke="#060606" stroke-width="1.6"/>
<path d="M650.10 247.23 L652.70 251.83 L647.50 251.83Z" fill="#060606"/>
<path d="M650.30 273.53 L652.90 278.13 L647.70 278.13Z" fill="#060606"/>
<path d="M650.30 286.43 L652.90 291.03 L647.70 291.03Z" fill="#060606"/>
<path d="M650.30 291.63 L652.90 296.23 L647.70 296.23Z" fill="#060606"/>
<path d="M645.70 298.03 L648.30 302.63 L643.10 302.63Z" fill="#060606"/>
<path d="M655.00 298.33 L657.60 302.93 L652.40 302.93Z" fill="#060606"/>
<path d="M650.30 313.13 L652.90 317.73 L647.70 317.73Z" fill="#060606"/>
<line x1="606.60" y1="237.30" x2="649.10" y2="237.30" stroke="#060606" stroke-width="1.6"/>
<line x1="606.60" y1="233.40" x2="606.60" y2="241.20" stroke="#060606" stroke-width="1.6"/>
<line x1="649.10" y1="233.40" x2="649.10" y2="241.20" stroke="#060606" stroke-width="1.6"/>
<text xml:space="preserve" x="628.80" y="237.40" font-size="14" text-anchor="middle" font-weight="bold">**</text>
<text xml:space="preserve" x="628.90" y="201.30" font-size="10.5" text-anchor="middle" font-weight="bold">Liver</text>
<text xml:space="preserve" x="559.00" y="274.00" font-size="10.9" text-anchor="middle" font-weight="bold" transform="rotate(-90 559.00 274.00)">%IFN-&#947;+ MAIT cells</text>
<path d="M723.80 331.00 L723.80 288.30 L751.00 288.30 L751.00 331.00" fill="#fff" stroke="#060606" stroke-width="1.6"/>
<path d="M766.30 331.00 L766.30 264.60 L793.40 264.60 L793.40 331.00" fill="#fff" stroke="#8e8e8e" stroke-width="1.6"/>
<line x1="715.90" y1="217.20" x2="715.90" y2="331.60" stroke="#060606" stroke-width="1.6"/>
<line x1="715.30" y1="331.00" x2="800.40" y2="331.00" stroke="#060606" stroke-width="1.6"/>
<line x1="712.50" y1="217.80" x2="715.90" y2="217.80" stroke="#060606" stroke-width="1.6"/>
<text xml:space="preserve" x="710.90" y="221.80" font-size="10.6" text-anchor="end" font-weight="bold">50</text>
<line x1="712.50" y1="240.40" x2="715.90" y2="240.40" stroke="#060606" stroke-width="1.6"/>
<text xml:space="preserve" x="710.90" y="244.40" font-size="10.6" text-anchor="end" font-weight="bold">40</text>
<line x1="712.50" y1="263.10" x2="715.90" y2="263.10" stroke="#060606" stroke-width="1.6"/>
<text xml:space="preserve" x="710.90" y="267.10" font-size="10.6" text-anchor="end" font-weight="bold">30</text>
<line x1="712.50" y1="285.80" x2="715.90" y2="285.80" stroke="#060606" stroke-width="1.6"/>
<text xml:space="preserve" x="710.90" y="289.80" font-size="10.6" text-anchor="end" font-weight="bold">20</text>
<line x1="712.50" y1="308.30" x2="715.90" y2="308.30" stroke="#060606" stroke-width="1.6"/>
<text xml:space="preserve" x="710.90" y="312.30" font-size="10.6" text-anchor="end" font-weight="bold">10</text>
<line x1="712.50" y1="331.00" x2="715.90" y2="331.00" stroke="#060606" stroke-width="1.6"/>
<text xml:space="preserve" x="710.90" y="335.00" font-size="10.6" text-anchor="end" font-weight="bold">0</text>
<line x1="737.40" y1="331.00" x2="737.40" y2="335.40" stroke="#060606" stroke-width="1.6"/>
<text xml:space="preserve" x="737.40" y="347.00" font-size="11.3" text-anchor="middle" font-weight="bold">PF</text>
<line x1="779.85" y1="331.00" x2="779.85" y2="335.40" stroke="#060606" stroke-width="1.6"/>
<text xml:space="preserve" x="779.85" y="347.00" font-size="11.3" text-anchor="middle" font-weight="bold">AF</text>
<line x1="737.40" y1="272.30" x2="737.40" y2="302.70" stroke="#060606" stroke-width="1.6"/>
<line x1="729.90" y1="272.30" x2="744.90" y2="272.30" stroke="#060606" stroke-width="1.6"/>
<line x1="729.90" y1="302.70" x2="744.90" y2="302.70" stroke="#060606" stroke-width="1.6"/>
<circle cx="732.70" cy="266.90" r="2.4" fill="#060606"/>
<circle cx="741.60" cy="266.60" r="2.4" fill="#060606"/>
<circle cx="737.10" cy="275.40" r="2.4" fill="#060606"/>
<circle cx="732.70" cy="287.90" r="2.4" fill="#060606"/>
<circle cx="741.60" cy="286.90" r="2.4" fill="#060606"/>
<circle cx="741.60" cy="294.30" r="2.4" fill="#060606"/>
<circle cx="732.70" cy="298.40" r="2.4" fill="#060606"/>
<circle cx="732.70" cy="306.90" r="2.4" fill="#060606"/>
<circle cx="741.60" cy="306.60" r="2.4" fill="#060606"/>
<line x1="779.85" y1="249.90" x2="779.85" y2="276.90" stroke="#060606" stroke-width="1.6"/>
<line x1="772.35" y1="249.90" x2="787.35" y2="249.90" stroke="#060606" stroke-width="1.6"/>
<line x1="772.35" y1="276.90" x2="787.35" y2="276.90" stroke="#060606" stroke-width="1.6"/>
<path d="M779.60 238.03 L782.20 242.63 L777.00 242.63Z" fill="#060606"/>
<path d="M770.70 258.53 L773.30 263.13 L768.10 263.13Z" fill="#060606"/>
<path d="M789.00 255.63 L791.60 260.23 L786.40 260.23Z" fill="#060606"/>
<path d="M779.60 259.73 L782.20 264.33 L777.00 264.33Z" fill="#060606"/>
<path d="M775.20 267.13 L777.80 271.73 L772.60 271.73Z" fill="#060606"/>
<path d="M784.40 267.93 L787.00 272.53 L781.80 272.53Z" fill="#060606"/>
<path d="M779.60 281.93 L782.20 286.53 L777.00 286.53Z" fill="#060606"/>
<line x1="736.20" y1="221.50" x2="778.90" y2="221.50" stroke="#060606" stroke-width="1.6"/>
<line x1="736.20" y1="217.60" x2="736.20" y2="225.40" stroke="#060606" stroke-width="1.6"/>
<line x1="778.90" y1="217.60" x2="778.90" y2="225.40" stroke="#060606" stroke-width="1.6"/>
<text xml:space="preserve" x="758.40" y="222.00" font-size="14" text-anchor="middle" font-weight="bold">**</text>
<text xml:space="preserve" x="758.60" y="195.60" font-size="10.5" text-anchor="middle" font-weight="bold">Liver</text>
<text xml:space="preserve" x="689.00" y="273.00" font-size="10.6" text-anchor="middle" font-weight="bold" transform="rotate(-90 689.00 273.00)">%TNF-&#945;+ MAIT cells</text>
<path d="M60.30 522.10 L60.30 480.40 L87.90 480.40 L87.90 522.10" fill="#fff" stroke="#060606" stroke-width="1.6"/>
<path d="M103.00 522.10 L103.00 504.10 L130.40 504.10 L130.40 522.10" fill="#fff" stroke="#8e8e8e" stroke-width="1.6"/>
<line x1="52.90" y1="408.20" x2="52.90" y2="522.70" stroke="#060606" stroke-width="1.6"/>
<line x1="52.30" y1="522.10" x2="139.00" y2="522.10" stroke="#060606" stroke-width="1.6"/>
<line x1="49.50" y1="408.80" x2="52.90" y2="408.80" stroke="#060606" stroke-width="1.6"/>
<text xml:space="preserve" x="47.90" y="412.80" font-size="10.6" text-anchor="end" font-weight="bold">40</text>
<line x1="49.50" y1="437.10" x2="52.90" y2="437.10" stroke="#060606" stroke-width="1.6"/>
<text xml:space="preserve" x="47.90" y="441.10" font-size="10.6" text-anchor="end" font-weight="bold">30</text>
<line x1="49.50" y1="465.40" x2="52.90" y2="465.40" stroke="#060606" stroke-width="1.6"/>
<text xml:space="preserve" x="47.90" y="469.40" font-size="10.6" text-anchor="end" font-weight="bold">20</text>
<line x1="49.50" y1="493.70" x2="52.90" y2="493.70" stroke="#060606" stroke-width="1.6"/>
<text xml:space="preserve" x="47.90" y="497.70" font-size="10.6" text-anchor="end" font-weight="bold">10</text>
<line x1="49.50" y1="522.10" x2="52.90" y2="522.10" stroke="#060606" stroke-width="1.6"/>
<text xml:space="preserve" x="47.90" y="526.10" font-size="10.6" text-anchor="end" font-weight="bold">0</text>
<line x1="74.10" y1="522.10" x2="74.10" y2="526.50" stroke="#060606" stroke-width="1.6"/>
<text xml:space="preserve" x="74.10" y="536.60" font-size="11.3" text-anchor="middle" font-weight="bold">PF</text>
<line x1="116.70" y1="522.10" x2="116.70" y2="526.50" stroke="#060606" stroke-width="1.6"/>
<text xml:space="preserve" x="116.70" y="536.60" font-size="11.3" text-anchor="middle" font-weight="bold">AF</text>
<line x1="74.10" y1="456.20" x2="74.10" y2="503.00" stroke="#060606" stroke-width="1.6"/>
<line x1="66.60" y1="456.20" x2="81.60" y2="456.20" stroke="#060606" stroke-width="1.6"/>
<line x1="66.60" y1="503.00" x2="81.60" y2="503.00" stroke="#060606" stroke-width="1.6"/>
<circle cx="74.10" cy="420.20" r="2.4" fill="#060606"/>
<circle cx="74.10" cy="468.50" r="2.4" fill="#060606"/>
<circle cx="83.40" cy="472.50" r="2.4" fill="#060606"/>
<circle cx="74.10" cy="475.90" r="2.4" fill="#060606"/>
<circle cx="74.10" cy="487.00" r="2.4" fill="#060606"/>
<circle cx="64.90" cy="490.00" r="2.4" fill="#060606"/>
<circle cx="83.40" cy="491.50" r="2.4" fill="#060606"/>
<circle cx="74.10" cy="495.90" r="2.4" fill="#060606"/>
<circle cx="64.90" cy="499.60" r="2.4" fill="#060606"/>
<circle cx="83.40" cy="497.10" r="2.4" fill="#060606"/>
<line x1="116.70" y1="487.80" x2="116.70" y2="518.90" stroke="#060606" stroke-width="1.6"/>
<line x1="109.20" y1="487.80" x2="124.20" y2="487.80" stroke="#060606" stroke-width="1.6"/>
<line x1="109.20" y1="518.90" x2="124.20" y2="518.90" stroke="#060606" stroke-width="1.6"/>
<path d="M116.70 469.83 L119.30 474.43 L114.10 474.43Z" fill="#060606"/>
<path d="M107.70 491.73 L110.30 496.33 L105.10 496.33Z" fill="#060606"/>
<path d="M116.70 491.43 L119.30 496.03 L114.10 496.03Z" fill="#060606"/>
<path d="M125.60 491.03 L128.20 495.63 L123.00 495.63Z" fill="#060606"/>
<path d="M116.70 499.23 L119.30 503.83 L114.10 503.83Z" fill="#060606"/>
<path d="M107.70 503.93 L110.30 508.53 L105.10 508.53Z" fill="#060606"/>
<path d="M116.70 506.63 L119.30 511.23 L114.10 511.23Z" fill="#060606"/>
<path d="M107.70 519.63 L110.30 524.23 L105.10 524.23Z" fill="#060606"/>
<path d="M116.70 519.93 L119.30 524.53 L114.10 524.53Z" fill="#060606"/>
<path d="M125.60 519.93 L128.20 524.53 L123.00 524.53Z" fill="#060606"/>
<line x1="74.80" y1="411.70" x2="118.20" y2="411.70" stroke="#060606" stroke-width="1.6"/>
<line x1="74.80" y1="407.80" x2="74.80" y2="415.60" stroke="#060606" stroke-width="1.6"/>
<line x1="118.20" y1="407.80" x2="118.20" y2="415.60" stroke="#060606" stroke-width="1.6"/>
<text xml:space="preserve" x="96.30" y="414.10" font-size="14" text-anchor="middle" font-weight="bold">*</text>
<text xml:space="preserve" x="95.30" y="392.80" font-size="10.5" text-anchor="middle" font-weight="bold">Intestine</text>
<text xml:space="preserve" x="27.70" y="465.00" font-size="10.9" text-anchor="middle" font-weight="bold" transform="rotate(-90 27.70 465.00)">%PLZF+ MAIT cells</text>
<path d="M187.80 519.90 L187.80 483.00 L215.20 483.00 L215.20 519.90" fill="#fff" stroke="#060606" stroke-width="1.6"/>
<path d="M230.40 519.90 L230.40 510.00 L257.90 510.00 L257.90 519.90" fill="#fff" stroke="#8e8e8e" stroke-width="1.6"/>
<line x1="180.10" y1="406.20" x2="180.10" y2="520.50" stroke="#060606" stroke-width="1.6"/>
<line x1="179.50" y1="519.90" x2="265.60" y2="519.90" stroke="#060606" stroke-width="1.6"/>
<line x1="176.70" y1="406.80" x2="180.10" y2="406.80" stroke="#060606" stroke-width="1.6"/>
<text xml:space="preserve" x="175.10" y="410.80" font-size="10.6" text-anchor="end" font-weight="bold">15</text>
<line x1="176.70" y1="444.50" x2="180.10" y2="444.50" stroke="#060606" stroke-width="1.6"/>
<text xml:space="preserve" x="175.10" y="448.50" font-size="10.6" text-anchor="end" font-weight="bold">10</text>
<line x1="176.70" y1="482.20" x2="180.10" y2="482.20" stroke="#060606" stroke-width="1.6"/>
<text xml:space="preserve" x="175.10" y="486.20" font-size="10.6" text-anchor="end" font-weight="bold">5</text>
<line x1="176.70" y1="519.90" x2="180.10" y2="519.90" stroke="#060606" stroke-width="1.6"/>
<text xml:space="preserve" x="175.10" y="523.90" font-size="10.6" text-anchor="end" font-weight="bold">0</text>
<line x1="201.50" y1="519.90" x2="201.50" y2="524.30" stroke="#060606" stroke-width="1.6"/>
<text xml:space="preserve" x="201.50" y="534.80" font-size="11.3" text-anchor="middle" font-weight="bold">PF</text>
<line x1="244.15" y1="519.90" x2="244.15" y2="524.30" stroke="#060606" stroke-width="1.6"/>
<text xml:space="preserve" x="244.15" y="534.80" font-size="11.3" text-anchor="middle" font-weight="bold">AF</text>
<line x1="201.50" y1="452.30" x2="201.50" y2="512.20" stroke="#060606" stroke-width="1.6"/>
<line x1="194.00" y1="452.30" x2="209.00" y2="452.30" stroke="#060606" stroke-width="1.6"/>
<line x1="194.00" y1="512.20" x2="209.00" y2="512.20" stroke="#060606" stroke-width="1.6"/>
<circle cx="201.40" cy="436.10" r="2.4" fill="#060606"/>
<circle cx="201.40" cy="443.40" r="2.4" fill="#060606"/>
<circle cx="201.40" cy="454.70" r="2.4" fill="#060606"/>
<circle cx="201.40" cy="480.80" r="2.4" fill="#060606"/>
<circle cx="201.40" cy="500.60" r="2.4" fill="#060606"/>
<circle cx="192.50" cy="502.30" r="2.4" fill="#060606"/>
<circle cx="210.40" cy="503.30" r="2.4" fill="#060606"/>
<circle cx="201.40" cy="507.70" r="2.4" fill="#060606"/>
<circle cx="201.40" cy="514.00" r="2.4" fill="#060606"/>
<line x1="244.15" y1="500.30" x2="244.15" y2="518.90" stroke="#060606" stroke-width="1.6"/>
<line x1="236.65" y1="500.30" x2="251.65" y2="500.30" stroke="#060606" stroke-width="1.6"/>
<line x1="236.65" y1="518.90" x2="251.65" y2="518.90" stroke="#060606" stroke-width="1.6"/>
<path d="M239.90 492.93 L242.50 497.53 L237.30 497.53Z" fill="#060606"/>
<path d="M248.10 496.23 L250.70 500.83 L245.50 500.83Z" fill="#060606"/>
<path d="M239.90 500.33 L242.50 504.93 L237.30 504.93Z" fill="#060606"/>
<path d="M232.20 502.43 L234.80 507.03 L229.60 507.03Z" fill="#060606"/>
<path d="M248.10 504.03 L250.70 508.63 L245.50 508.63Z" fill="#060606"/>
<path d="M239.90 508.33 L242.50 512.93 L237.30 512.93Z" fill="#060606"/>
<path d="M239.90 513.93 L242.50 518.53 L237.30 518.53Z" fill="#060606"/>
<path d="M232.20 516.93 L234.80 521.53 L229.60 521.53Z" fill="#060606"/>
<path d="M248.10 516.23 L250.70 520.83 L245.50 520.83Z" fill="#060606"/>
<path d="M256.40 516.23 L259.00 520.83 L253.80 520.83Z" fill="#060606"/>
<path d="M244.10 516.33 L246.70 520.93 L241.50 520.93Z" fill="#060606"/>
<line x1="201.60" y1="419.40" x2="245.30" y2="419.40" stroke="#060606" stroke-width="1.6"/>
<line x1="201.60" y1="415.50" x2="201.60" y2="423.30" stroke="#060606" stroke-width="1.6"/>
<line x1="245.30" y1="415.50" x2="245.30" y2="423.30" stroke="#060606" stroke-width="1.6"/>
<text xml:space="preserve" x="222.10" y="418.90" font-size="14" text-anchor="middle" font-weight="bold">*</text>
<text xml:space="preserve" x="223.00" y="388.70" font-size="10.5" text-anchor="middle" font-weight="bold">Intestine</text>
<text xml:space="preserve" x="157.00" y="463.00" font-size="10.6" text-anchor="middle" font-weight="bold" transform="rotate(-90 157.00 463.00)">%T-bet+ MAIT cells</text>
<path d="M325.60 523.60 L325.60 454.70 L353.50 454.70 L353.50 523.60" fill="#fff" stroke="#060606" stroke-width="1.6"/>
<path d="M368.40 523.60 L368.40 453.00 L396.50 453.00 L396.50 523.60" fill="#fff" stroke="#8e8e8e" stroke-width="1.6"/>
<line x1="318.10" y1="410.00" x2="318.10" y2="524.20" stroke="#060606" stroke-width="1.6"/>
<line x1="317.50" y1="523.60" x2="403.80" y2="523.60" stroke="#060606" stroke-width="1.6"/>
<line x1="314.70" y1="410.60" x2="318.10" y2="410.60" stroke="#060606" stroke-width="1.6"/>
<text xml:space="preserve" x="313.10" y="414.60" font-size="10.6" text-anchor="end" font-weight="bold">80</text>
<line x1="314.70" y1="438.90" x2="318.10" y2="438.90" stroke="#060606" stroke-width="1.6"/>
<text xml:space="preserve" x="313.10" y="442.90" font-size="10.6" text-anchor="end" font-weight="bold">60</text>
<line x1="314.70" y1="467.20" x2="318.10" y2="467.20" stroke="#060606" stroke-width="1.6"/>
<text xml:space="preserve" x="313.10" y="471.20" font-size="10.6" text-anchor="end" font-weight="bold">40</text>
<line x1="314.70" y1="495.50" x2="318.10" y2="495.50" stroke="#060606" stroke-width="1.6"/>
<text xml:space="preserve" x="313.10" y="499.50" font-size="10.6" text-anchor="end" font-weight="bold">20</text>
<line x1="314.70" y1="523.60" x2="318.10" y2="523.60" stroke="#060606" stroke-width="1.6"/>
<text xml:space="preserve" x="313.10" y="527.60" font-size="10.6" text-anchor="end" font-weight="bold">0</text>
<line x1="339.55" y1="523.60" x2="339.55" y2="528.00" stroke="#060606" stroke-width="1.6"/>
<text xml:space="preserve" x="339.55" y="539.00" font-size="11.3" text-anchor="middle" font-weight="bold">PF</text>
<line x1="382.45" y1="523.60" x2="382.45" y2="528.00" stroke="#060606" stroke-width="1.6"/>
<text xml:space="preserve" x="382.45" y="539.00" font-size="11.3" text-anchor="middle" font-weight="bold">AF</text>
<line x1="339.55" y1="439.00" x2="339.55" y2="468.80" stroke="#060606" stroke-width="1.6"/>
<line x1="332.05" y1="439.00" x2="347.05" y2="439.00" stroke="#060606" stroke-width="1.6"/>
<line x1="332.05" y1="468.80" x2="347.05" y2="468.80" stroke="#060606" stroke-width="1.6"/>
<circle cx="339.30" cy="426.90" r="2.4" fill="#060606"/>
<circle cx="335.20" cy="441.30" r="2.4" fill="#060606"/>
<circle cx="343.30" cy="443.20" r="2.4" fill="#060606"/>
<circle cx="335.20" cy="446.60" r="2.4" fill="#060606"/>
<circle cx="339.30" cy="455.20" r="2.4" fill="#060606"/>
<circle cx="327.50" cy="460.70" r="2.4" fill="#060606"/>
<circle cx="343.30" cy="461.10" r="2.4" fill="#060606"/>
<circle cx="335.20" cy="463.60" r="2.4" fill="#060606"/>
<circle cx="351.50" cy="463.60" r="2.4" fill="#060606"/>
<circle cx="339.30" cy="478.60" r="2.4" fill="#060606"/>
<line x1="382.45" y1="437.60" x2="382.45" y2="467.00" stroke="#060606" stroke-width="1.6"/>
<line x1="374.95" y1="437.60" x2="389.95" y2="437.60" stroke="#060606" stroke-width="1.6"/>
<line x1="374.95" y1="467.00" x2="389.95" y2="467.00" stroke="#060606" stroke-width="1.6"/>
<path d="M378.40 435.33 L381.00 439.93 L375.80 439.93Z" fill="#060606"/>
<path d="M394.70 438.33 L397.30 442.93 L392.10 442.93Z" fill="#060606"/>
<path d="M370.40 441.23 L373.00 445.83 L367.80 445.83Z" fill="#060606"/>
<path d="M386.60 441.73 L389.20 446.33 L384.00 446.33Z" fill="#060606"/>
<path d="M378.40 444.23 L381.00 448.83 L375.80 448.83Z" fill="#060606"/>
<path d="M394.70 444.93 L397.30 449.53 L392.10 449.53Z" fill="#060606"/>
<path d="M386.60 447.73 L389.20 452.33 L384.00 452.33Z" fill="#060606"/>
<path d="M382.60 455.03 L385.20 459.63 L380.00 459.63Z" fill="#060606"/>
<path d="M382.60 468.03 L385.20 472.63 L380.00 472.63Z" fill="#060606"/>
<path d="M382.60 482.63 L385.20 487.23 L380.00 487.23Z" fill="#060606"/>
<text xml:space="preserve" x="361.30" y="395.50" font-size="10.5" text-anchor="middle" font-weight="bold">Lung</text>
<text xml:space="preserve" x="290.50" y="466.00" font-size="10.8" text-anchor="middle" font-weight="bold" transform="rotate(-90 290.50 466.00)">%PLZF+ MAIT cells</text>
<path d="M456.00 519.90 L456.00 494.10 L483.70 494.10 L483.70 519.90" fill="#fff" stroke="#060606" stroke-width="1.6"/>
<path d="M499.30 519.90 L499.30 466.30 L526.40 466.30 L526.40 519.90" fill="#fff" stroke="#8e8e8e" stroke-width="1.6"/>
<line x1="448.40" y1="406.20" x2="448.40" y2="520.50" stroke="#060606" stroke-width="1.6"/>
<line x1="447.80" y1="519.90" x2="534.10" y2="519.90" stroke="#060606" stroke-width="1.6"/>
<line x1="445.00" y1="406.80" x2="448.40" y2="406.80" stroke="#060606" stroke-width="1.6"/>
<text xml:space="preserve" x="443.40" y="410.80" font-size="10.6" text-anchor="end" font-weight="bold">40</text>
<line x1="445.00" y1="435.10" x2="448.40" y2="435.10" stroke="#060606" stroke-width="1.6"/>
<text xml:space="preserve" x="443.40" y="439.10" font-size="10.6" text-anchor="end" font-weight="bold">30</text>
<line x1="445.00" y1="463.40" x2="448.40" y2="463.40" stroke="#060606" stroke-width="1.6"/>
<text xml:space="preserve" x="443.40" y="467.40" font-size="10.6" text-anchor="end" font-weight="bold">20</text>
<line x1="445.00" y1="491.60" x2="448.40" y2="491.60" stroke="#060606" stroke-width="1.6"/>
<text xml:space="preserve" x="443.40" y="495.60" font-size="10.6" text-anchor="end" font-weight="bold">10</text>
<line x1="445.00" y1="519.90" x2="448.40" y2="519.90" stroke="#060606" stroke-width="1.6"/>
<text xml:space="preserve" x="443.40" y="523.90" font-size="10.6" text-anchor="end" font-weight="bold">0</text>
<line x1="469.85" y1="519.90" x2="469.85" y2="524.30" stroke="#060606" stroke-width="1.6"/>
<text xml:space="preserve" x="469.85" y="535.50" font-size="11.3" text-anchor="middle" font-weight="bold">PF</text>
<line x1="512.85" y1="519.90" x2="512.85" y2="524.30" stroke="#060606" stroke-width="1.6"/>
<text xml:space="preserve" x="512.85" y="535.50" font-size="11.3" text-anchor="middle" font-weight="bold">AF</text>
<line x1="469.85" y1="478.90" x2="469.85" y2="507.70" stroke="#060606" stroke-width="1.6"/>
<line x1="462.35" y1="478.90" x2="477.35" y2="478.90" stroke="#060606" stroke-width="1.6"/>
<line x1="462.35" y1="507.70" x2="477.35" y2="507.70" stroke="#060606" stroke-width="1.6"/>
<circle cx="469.90" cy="472.90" r="2.4" fill="#060606"/>
<circle cx="469.90" cy="479.90" r="2.4" fill="#060606"/>
<circle cx="469.90" cy="486.70" r="2.4" fill="#060606"/>
<circle cx="469.90" cy="493.70" r="2.4" fill="#060606"/>
<circle cx="465.20" cy="502.90" r="2.4" fill="#060606"/>
<circle cx="474.50" cy="504.30" r="2.4" fill="#060606"/>
<circle cx="469.90" cy="513.20" r="2.4" fill="#060606"/>
<line x1="512.85" y1="444.10" x2="512.85" y2="487.00" stroke="#060606" stroke-width="1.6"/>
<line x1="505.35" y1="444.10" x2="520.35" y2="444.10" stroke="#060606" stroke-width="1.6"/>
<line x1="505.35" y1="487.00" x2="520.35" y2="487.00" stroke="#060606" stroke-width="1.6"/>
<path d="M512.90 432.73 L515.50 437.33 L510.30 437.33Z" fill="#060606"/>
<path d="M503.70 457.33 L506.30 461.93 L501.10 461.93Z" fill="#060606"/>
<path d="M512.90 457.63 L515.50 462.23 L510.30 462.23Z" fill="#060606"/>
<path d="M521.90 457.33 L524.50 461.93 L519.30 461.93Z" fill="#060606"/>
<path d="M512.90 483.13 L515.50 487.73 L510.30 487.73Z" fill="#060606"/>
<path d="M512.90 493.33 L515.50 497.93 L510.30 497.93Z" fill="#060606"/>
<line x1="471.10" y1="421.20" x2="512.60" y2="421.20" stroke="#060606" stroke-width="1.6"/>
<line x1="471.10" y1="417.30" x2="471.10" y2="425.10" stroke="#060606" stroke-width="1.6"/>
<line x1="512.60" y1="417.30" x2="512.60" y2="425.10" stroke="#060606" stroke-width="1.6"/>
<text xml:space="preserve" x="491.10" y="419.50" font-size="14" text-anchor="middle" font-weight="bold">*</text>
<text xml:space="preserve" x="491.70" y="387.90" font-size="10.5" text-anchor="middle" font-weight="bold">Lung</text>
<text xml:space="preserve" x="418.40" y="463.00" font-size="10.6" text-anchor="middle" font-weight="bold" transform="rotate(-90 418.40 463.00)">%T-bet+ MAIT cells</text>
<path d="M597.50 516.60 L597.50 454.40 L624.70 454.40 L624.70 516.60" fill="#fff" stroke="#060606" stroke-width="1.6"/>
<path d="M640.00 516.60 L640.00 452.60 L667.00 452.60 L667.00 516.60" fill="#fff" stroke="#8e8e8e" stroke-width="1.6"/>
<line x1="589.30" y1="403.40" x2="589.30" y2="517.20" stroke="#060606" stroke-width="1.6"/>
<line x1="588.70" y1="516.60" x2="674.80" y2="516.60" stroke="#060606" stroke-width="1.6"/>
<line x1="585.90" y1="404.00" x2="589.30" y2="404.00" stroke="#060606" stroke-width="1.6"/>
<text xml:space="preserve" x="584.30" y="408.00" font-size="10.6" text-anchor="end" font-weight="bold">80</text>
<line x1="585.90" y1="432.30" x2="589.30" y2="432.30" stroke="#060606" stroke-width="1.6"/>
<text xml:space="preserve" x="584.30" y="436.30" font-size="10.6" text-anchor="end" font-weight="bold">60</text>
<line x1="585.90" y1="460.60" x2="589.30" y2="460.60" stroke="#060606" stroke-width="1.6"/>
<text xml:space="preserve" x="584.30" y="464.60" font-size="10.6" text-anchor="end" font-weight="bold">40</text>
<line x1="585.90" y1="488.90" x2="589.30" y2="488.90" stroke="#060606" stroke-width="1.6"/>
<text xml:space="preserve" x="584.30" y="492.90" font-size="10.6" text-anchor="end" font-weight="bold">20</text>
<line x1="585.90" y1="516.60" x2="589.30" y2="516.60" stroke="#060606" stroke-width="1.6"/>
<text xml:space="preserve" x="584.30" y="520.60" font-size="10.6" text-anchor="end" font-weight="bold">0</text>
<line x1="611.10" y1="516.60" x2="611.10" y2="521.00" stroke="#060606" stroke-width="1.6"/>
<text xml:space="preserve" x="611.10" y="531.50" font-size="11.3" text-anchor="middle" font-weight="bold">PF</text>
<line x1="653.50" y1="516.60" x2="653.50" y2="521.00" stroke="#060606" stroke-width="1.6"/>
<text xml:space="preserve" x="653.50" y="531.50" font-size="11.3" text-anchor="middle" font-weight="bold">AF</text>
<line x1="611.10" y1="437.60" x2="611.10" y2="470.00" stroke="#060606" stroke-width="1.6"/>
<line x1="603.60" y1="437.60" x2="618.60" y2="437.60" stroke="#060606" stroke-width="1.6"/>
<line x1="603.60" y1="470.00" x2="618.60" y2="470.00" stroke="#060606" stroke-width="1.6"/>
<circle cx="610.80" cy="434.20" r="2.4" fill="#060606"/>
<circle cx="606.70" cy="440.60" r="2.4" fill="#060606"/>
<circle cx="599.00" cy="445.10" r="2.4" fill="#060606"/>
<circle cx="614.80" cy="444.70" r="2.4" fill="#060606"/>
<circle cx="623.00" cy="444.70" r="2.4" fill="#060606"/>
<circle cx="606.70" cy="460.00" r="2.4" fill="#060606"/>
<circle cx="614.80" cy="459.30" r="2.4" fill="#060606"/>
<circle cx="614.80" cy="476.30" r="2.4" fill="#060606"/>
<circle cx="606.70" cy="480.50" r="2.4" fill="#060606"/>
<line x1="653.50" y1="434.70" x2="653.50" y2="468.20" stroke="#060606" stroke-width="1.6"/>
<line x1="646.00" y1="434.70" x2="661.00" y2="434.70" stroke="#060606" stroke-width="1.6"/>
<line x1="646.00" y1="468.20" x2="661.00" y2="468.20" stroke="#060606" stroke-width="1.6"/>
<path d="M653.60 429.73 L656.20 434.33 L651.00 434.33Z" fill="#060606"/>
<path d="M644.40 442.33 L647.00 446.93 L641.80 446.93Z" fill="#060606"/>
<path d="M653.60 441.73 L656.20 446.33 L651.00 446.33Z" fill="#060606"/>
<path d="M662.70 442.63 L665.30 447.23 L660.10 447.23Z" fill="#060606"/>
<path d="M653.60 446.23 L656.20 450.83 L651.00 450.83Z" fill="#060606"/>
<path d="M653.60 461.83 L656.20 466.43 L651.00 466.43Z" fill="#060606"/>
<path d="M653.60 480.33 L656.20 484.93 L651.00 484.93Z" fill="#060606"/>
<text xml:space="preserve" x="632.40" y="384.70" font-size="10.5" text-anchor="middle" font-weight="bold">Liver</text>
<text xml:space="preserve" x="563.00" y="460.00" font-size="10.6" text-anchor="middle" font-weight="bold" transform="rotate(-90 563.00 460.00)">%PLZF+ MAIT cells</text>
<path d="M730.00 518.50 L730.00 486.50 L757.40 486.50 L757.40 518.50" fill="#fff" stroke="#060606" stroke-width="1.6"/>
<path d="M773.30 518.50 L773.30 462.80 L800.40 462.80 L800.40 518.50" fill="#fff" stroke="#8e8e8e" stroke-width="1.6"/>
<line x1="722.60" y1="404.40" x2="722.60" y2="519.10" stroke="#060606" stroke-width="1.6"/>
<line x1="722.00" y1="518.50" x2="807.50" y2="518.50" stroke="#060606" stroke-width="1.6"/>
<line x1="719.20" y1="405.00" x2="722.60" y2="405.00" stroke="#060606" stroke-width="1.6"/>
<text xml:space="preserve" x="717.60" y="409.00" font-size="10.6" text-anchor="end" font-weight="bold">30</text>
<line x1="719.20" y1="442.80" x2="722.60" y2="442.80" stroke="#060606" stroke-width="1.6"/>
<text xml:space="preserve" x="717.60" y="446.80" font-size="10.6" text-anchor="end" font-weight="bold">20</text>
<line x1="719.20" y1="480.50" x2="722.60" y2="480.50" stroke="#060606" stroke-width="1.6"/>
<text xml:space="preserve" x="717.60" y="484.50" font-size="10.6" text-anchor="end" font-weight="bold">10</text>
<line x1="719.20" y1="518.30" x2="722.60" y2="518.30" stroke="#060606" stroke-width="1.6"/>
<text xml:space="preserve" x="717.60" y="522.30" font-size="10.6" text-anchor="end" font-weight="bold">0</text>
<line x1="743.70" y1="518.50" x2="743.70" y2="522.90" stroke="#060606" stroke-width="1.6"/>
<text xml:space="preserve" x="743.70" y="534.00" font-size="11.3" text-anchor="middle" font-weight="bold">PF</text>
<line x1="786.85" y1="518.50" x2="786.85" y2="522.90" stroke="#060606" stroke-width="1.6"/>
<text xml:space="preserve" x="786.85" y="534.00" font-size="11.3" text-anchor="middle" font-weight="bold">AF</text>
<line x1="743.70" y1="473.10" x2="743.70" y2="497.90" stroke="#060606" stroke-width="1.6"/>
<line x1="736.20" y1="473.10" x2="751.20" y2="473.10" stroke="#060606" stroke-width="1.6"/>
<line x1="736.20" y1="497.90" x2="751.20" y2="497.90" stroke="#060606" stroke-width="1.6"/>
<circle cx="743.80" cy="466.50" r="2.4" fill="#060606"/>
<circle cx="749.00" cy="472.90" r="2.4" fill="#060606"/>
<circle cx="738.90" cy="475.70" r="2.4" fill="#060606"/>
<circle cx="753.40" cy="486.20" r="2.4" fill="#060606"/>
<circle cx="734.40" cy="488.70" r="2.4" fill="#060606"/>
<circle cx="743.80" cy="490.20" r="2.4" fill="#060606"/>
<circle cx="753.00" cy="492.70" r="2.4" fill="#060606"/>
<circle cx="743.80" cy="496.10" r="2.4" fill="#060606"/>
<circle cx="743.80" cy="504.60" r="2.4" fill="#060606"/>
<line x1="786.85" y1="437.10" x2="786.85" y2="487.20" stroke="#060606" stroke-width="1.6"/>
<line x1="779.35" y1="437.10" x2="794.35" y2="437.10" stroke="#060606" stroke-width="1.6"/>
<line x1="779.35" y1="487.20" x2="794.35" y2="487.20" stroke="#060606" stroke-width="1.6"/>
<path d="M786.60 414.93 L789.20 419.53 L784.00 419.53Z" fill="#060606"/>
<path d="M791.50 447.23 L794.10 451.83 L788.90 451.83Z" fill="#060606"/>
<path d="M782.30 450.03 L784.90 454.63 L779.70 454.63Z" fill="#060606"/>
<path d="M786.60 464.83 L789.20 469.43 L784.00 469.43Z" fill="#060606"/>
<path d="M786.60 469.43 L789.20 474.03 L784.00 474.03Z" fill="#060606"/>
<path d="M786.60 478.63 L789.20 483.23 L784.00 483.23Z" fill="#060606"/>
<path d="M786.60 492.43 L789.20 497.03 L784.00 497.03Z" fill="#060606"/>
<line x1="743.30" y1="406.80" x2="786.60" y2="406.80" stroke="#060606" stroke-width="1.6"/>
<line x1="743.30" y1="402.90" x2="743.30" y2="410.70" stroke="#060606" stroke-width="1.6"/>
<line x1="786.60" y1="402.90" x2="786.60" y2="410.70" stroke="#060606" stroke-width="1.6"/>
<text xml:space="preserve" x="765.10" y="407.80" font-size="14" text-anchor="middle" font-weight="bold">*</text>
<text xml:space="preserve" x="765.60" y="382.80" font-size="10.5" text-anchor="middle" font-weight="bold">Liver</text>
<text xml:space="preserve" x="696.00" y="462.00" font-size="10.6" text-anchor="middle" font-weight="bold" transform="rotate(-90 696.00 462.00)">%T-bet+ MAIT cells</text>
</svg>
</body></html>
